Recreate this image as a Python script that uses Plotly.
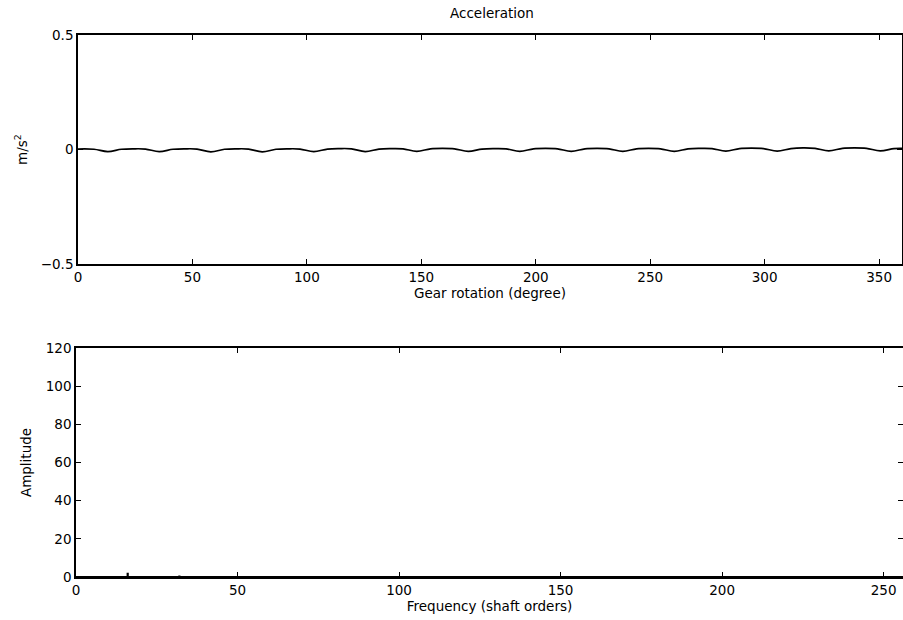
import plotly.graph_objects as go

# Top panel: acceleration vs gear rotation
angle_deg = [0, 7, 13, 19, 24.25, 29.5, 35.5, 41.5, 46.75, 52, 58, 64, 69.25, 74.5, 80.5,
             86.5, 91.75, 97, 103, 109, 114.25, 119.5, 125.5, 131.5, 136.75, 142, 148, 154,
             159.25, 164.5, 170.5, 176.5, 181.75, 187, 193, 199, 204.25, 209.5, 215.5, 221.5,
             226.75, 232, 238, 244, 249.25, 254.5, 260.5, 266.5, 271.75, 277, 283, 289, 294.25,
             299.5, 305.5, 311.5, 316.75, 322, 328, 334, 339.25, 344.5, 350.5, 356.5, 360]
accel = [0.002, 0.001, -0.009, 0.001, 0.003, 0.002, -0.009, 0.001, 0.003, 0.002, -0.010, 0.001,
         0.003, 0.002, -0.010, 0.001, 0.003, 0.002, -0.009, 0.002, 0.004, 0.003, -0.009, 0.002,
         0.004, 0.003, -0.008, 0.003, 0.005, 0.003, -0.008, 0.002, 0.004, 0.003, -0.008, 0.003,
         0.005, 0.003, -0.008, 0.003, 0.005, 0.003, -0.008, 0.003, 0.005, 0.003, -0.008, 0.003,
         0.005, 0.004, -0.007, 0.004, 0.006, 0.004, -0.007, 0.004, 0.007, 0.005, -0.006, 0.005,
         0.007, 0.005, -0.006, 0.004, 0.005]

# Bottom panel: amplitude spectrum
orders = [0, 16, 16, 16, 32, 32, 32, 256]
amplitude = [0, 0, 2.2, 0, 0, 0.8, 0, 0]

top_xticks = [0, 50, 100, 150, 200, 250, 300, 350]
top_yticks = [-0.5, 0, 0.5]
bot_xticks = [0, 50, 100, 150, 200, 250]
bot_yticks = [0, 20, 40, 60, 80, 100, 120]

W, H = 903, 620
font = dict(family="DejaVu Sans, Verdana, sans-serif", size=13.5, color="black")

fig = go.Figure()
fig.add_trace(go.Scatter(x=angle_deg, y=accel, mode="lines", line=dict(color="black", width=1.7, shape="spline"),
                         xaxis="x", yaxis="y", showlegend=False))
fig.add_trace(go.Scatter(x=orders, y=amplitude, mode="lines", line=dict(color="black", width=2.2),
                         xaxis="x2", yaxis="y2", showlegend=False))

axstyle = dict(showline=True, linecolor="black", linewidth=1.6, mirror="ticks", ticks="inside",
               ticklen=5, tickcolor="black", tickwidth=1.2, showgrid=False, zeroline=False,
               tickfont=font, automargin=False)

fig.update_layout(
    width=W, height=H, autosize=False,
    margin=dict(l=0, r=0, t=0, b=0, pad=0),
    paper_bgcolor="white", plot_bgcolor="white",
    font=font,
    xaxis=dict(domain=[78 / W, 902 / W], range=[0, 360], tickvals=top_xticks,
               title=dict(text="Gear rotation (degree)", font=font, standoff=1), anchor="y", **axstyle),
    yaxis=dict(domain=[1 - 264 / H, 1 - 35 / H], range=[-0.5, 0.5], tickvals=top_yticks,
               ticktext=["−0.5", "0", "0.5"],
               title=dict(text="m/s<sup>2</sup>", font=font, standoff=10), anchor="x", **axstyle),
    xaxis2=dict(domain=[76 / W, 1.0], range=[0, 256], tickvals=bot_xticks,
                title=dict(text="Frequency (shaft orders)", font=font, standoff=1), anchor="y2", **axstyle),
    yaxis2=dict(domain=[1 - 577 / H, 1 - 348 / H], range=[0, 120], tickvals=bot_yticks,
                title=dict(text="Amplitude", font=font, standoff=11), anchor="x2", **axstyle),
    annotations=[dict(text="Acceleration", x=492 / W, y=1 - 13 / H, xref="paper", yref="paper",
                      showarrow=False, font=font, xanchor="center", yanchor="middle")],
)

fig.write_html("out.html", config={"displayModeBar": False},
               post_script="document.body.style.margin='0';document.body.style.overflow='hidden';")
